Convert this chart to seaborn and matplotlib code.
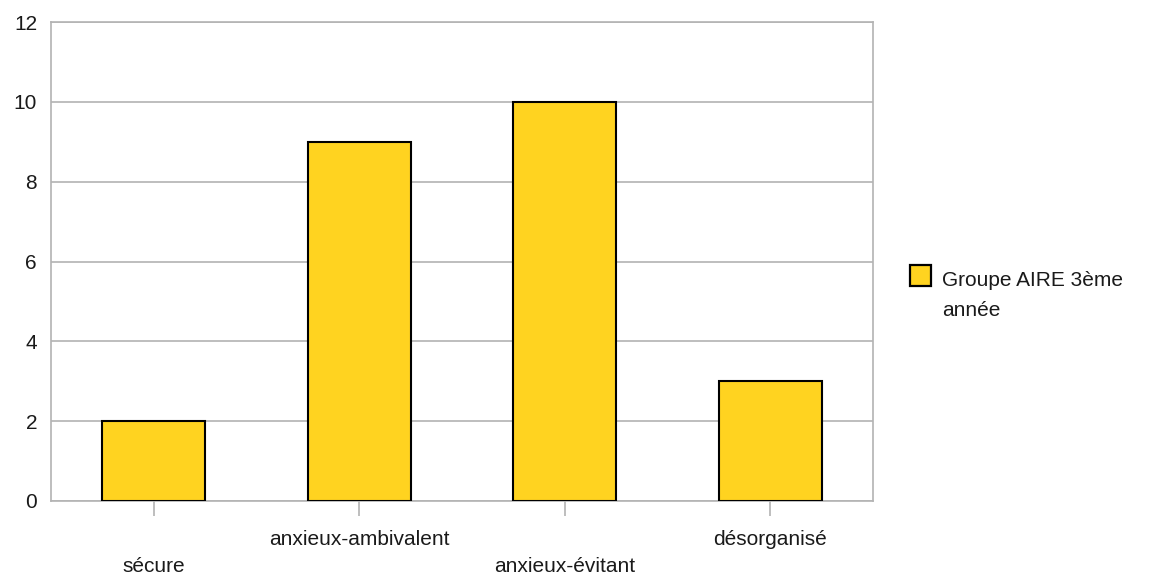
import matplotlib
matplotlib.use("Agg")
import matplotlib.pyplot as plt
import seaborn as sns
import pandas as pd
from matplotlib.patches import Rectangle, Patch
from matplotlib.legend_handler import HandlerPatch

categories = ["sécure", "anxieux-ambivalent", "anxieux-évitant", "désorganisé"]
values = [2, 9, 10, 3]
series_label = "Groupe AIRE 3ème\nannée"
y_ticks = [0, 2, 4, 6, 8, 10, 12]

sns.set_theme(style="white")
plt.rcParams['font.family'] = ['Liberation Sans', 'DejaVu Sans']

BAR = '#FFD320'
GRID = '#b3b3b3'
TXT = '#1a1a1a'
FS = 15

df = pd.DataFrame({"cat": categories, "val": values})

fig = plt.figure(figsize=(11.6, 5.82), dpi=100)
ax = fig.add_axes([51/1160, 1-501/582, (873-51)/1160, (501-22)/582])

sns.barplot(data=df, x="cat", y="val", color=BAR, width=0.5,
            edgecolor='black', linewidth=1.5, saturation=1, ax=ax, zorder=3)

ax.set_ylim(0, 12)
ax.set_xlim(-0.5, len(categories) - 0.5)
ax.set_yticks(y_ticks)
ax.set_yticklabels([str(t) for t in y_ticks], fontsize=FS, color=TXT)
ax.yaxis.grid(True, color=GRID, linewidth=1.2, zorder=0)
ax.xaxis.grid(False)
ax.set_axisbelow(True)
ax.set_xlabel("")
ax.set_ylabel("")

xlabels = [("\n" + c) if i % 2 == 0 else c for i, c in enumerate(categories)]
ax.set_xticks(range(len(categories)))
ax.set_xticklabels(xlabels, fontsize=FS, color=TXT)
for lab in ax.get_xticklabels():
    lab.set_linespacing(1.53)

ax.tick_params(axis='x', which='major', length=10.5, width=1.2, color=GRID,
               pad=10.5, direction='out', bottom=True)
ax.tick_params(axis='y', which='major', length=0, pad=10, left=True)

for s in ax.spines.values():
    s.set_visible(True)
    s.set_color(GRID)
    s.set_linewidth(1.2)


def make_square(legend, orig_handle, xdescent, ydescent, width, height, fontsize):
    return Rectangle((-xdescent, -ydescent + 13.8), width, width)


handle = Patch(facecolor=BAR, edgecolor='black', linewidth=1.6)
leg = ax.legend([handle], [series_label], loc='upper left',
                bbox_to_anchor=(910/1160, 1-271/582), bbox_transform=fig.transFigure,
                frameon=False, fontsize=FS, handlelength=1.0, handleheight=1.0,
                handletextpad=0.53, borderpad=0, borderaxespad=0,
                handler_map={Patch: HandlerPatch(patch_func=make_square)})
for t in leg.get_texts():
    t.set_linespacing(1.75)
    t.set_color(TXT)

fig.savefig("out.png", dpi=100, facecolor='white')
